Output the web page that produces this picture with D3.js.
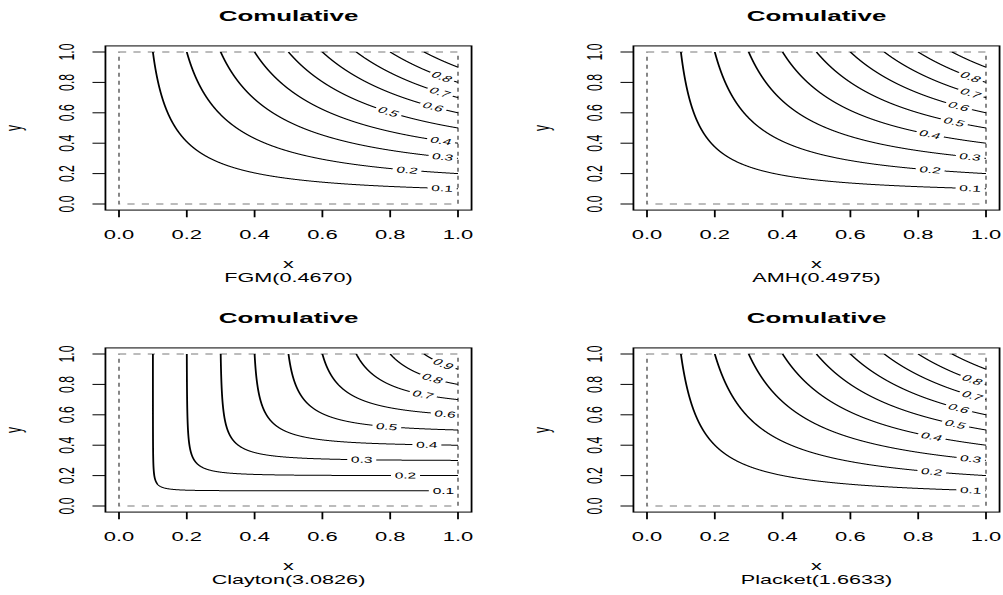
<!DOCTYPE html>
<html><head><meta charset="utf-8">
<script src="https://cdn.jsdelivr.net/npm/d3@7"></script>
<style>
html,body{margin:0;padding:0;background:#fff;}
svg{display:block;}
text{font-family:"Liberation Sans",Arial,Helvetica,sans-serif;fill:#000;}
</style>
</head><body>
<svg id="chart" width="1003" height="595"></svg>
<script>
// ---- data ----
const panelNames = ["FGM", "AMH", "Clayton", "Placket"];
const panelParams = [0.4670, 0.4975, 3.0826, 1.6633];
const panelParamLabels = ["0.4670", "0.4975", "3.0826", "1.6633"];
const levels = [0.1, 0.2, 0.3, 0.4, 0.5, 0.6, 0.7, 0.8, 0.9];
const levelLabels = ["0.1", "0.2", "0.3", "0.4", "0.5", "0.6", "0.7", "0.8", "0.9"];
// x position (data units) of each contour label, null = no label
const labelPosFGM = [0.953, 0.85, 0.955, 0.95, 0.795, 0.927, 0.947, 0.953, null];
const labelPosAMH = [0.953, 0.835, 0.953, 0.835, 0.906, 0.92, 0.955, 0.955, null];
const labelPosClayton = [0.957, 0.845, 0.716, 0.908, 0.79, 0.962, 0.897, 0.925, 0.957];
const labelPosPlacket = [0.955, 0.84, 0.955, 0.84, 0.91, 0.92, 0.96, 0.96, null];
const axisTicks = [0, 0.2, 0.4, 0.6, 0.8, 1.0];
const tickLabels = ["0.0", "0.2", "0.4", "0.6", "0.8", "1.0"];
const mainTitle = "Comulative";
const xTitle = "x";
const yTitle = "y";

// copula CDFs (the surfaces being contoured)
const copulas = [
  (u, v, t) => u * v * (1 + t * (1 - u) * (1 - v)),
  (u, v, t) => u * v / (1 - t * (1 - u) * (1 - v)),
  (u, v, t) => {
    if (u <= 0 || v <= 0) return 0;
    const s = Math.pow(u, -t) + Math.pow(v, -t) - 1;
    return Math.pow(Math.max(s, 1e-300), -1 / t);
  },
  (u, v, t) => {
    const s = 1 + (t - 1) * (u + v);
    return (s - Math.sqrt(Math.max(s * s - 4 * t * (t - 1) * u * v, 0))) / (2 * (t - 1));
  }
];
const labelPositions = [labelPosFGM, labelPosAMH, labelPosClayton, labelPosPlacket];

// ---- layout ----
const S = 1.8;           // horizontal stretch of the picture
const colDX = 528, rowDY = 302;
const svg = d3.select("#chart");
const root = svg.append("g").attr("transform", `scale(${S},1)`);

function contourCurve(C, t, c, N) {
  const pts = [];
  for (let i = 0; i <= N; i++) {
    const phi = i / N * Math.PI / 2;
    const cx = Math.cos(phi), sy = Math.sin(phi);
    const rmax = Math.min(cx > 1e-12 ? 1 / cx : Infinity, sy > 1e-12 ? 1 / sy : Infinity);
    let lo = 0, hi = rmax;
    for (let k = 0; k < 60; k++) {
      const m = (lo + hi) / 2;
      const val = C(Math.max(0, 1 - m * cx), Math.max(0, 1 - m * sy), t);
      if (val > c) lo = m; else hi = m;
    }
    const r = (lo + hi) / 2;
    pts.push([Math.max(0, 1 - r * cx), Math.max(0, 1 - r * sy)]);
  }
  return pts;
}

const line = d3.line();

panelNames.forEach((name, p) => {
  const col = p % 2, row = Math.floor(p / 2);
  const ox = col * colDX, oy = row * rowDY;
  const xs = d3.scaleLinear().domain([0, 1]).range([(119 + ox) / S, (458 + ox) / S]);
  const ys = d3.scaleLinear().domain([0, 1]).range([204 + oy, 52 + oy]);
  const g = root.append("g");

  const bx0 = xs(-0.04), bx1 = xs(1.04), by0 = ys(1.04), by1 = ys(-0.04);

  // dashed unit square
  g.append("rect")
    .attr("x", xs(0)).attr("y", ys(1))
    .attr("width", xs(1) - xs(0)).attr("height", ys(0) - ys(1))
    .attr("fill", "none").attr("stroke", "#7a7a7a")
    .attr("stroke-width", 1).attr("stroke-dasharray", "4,4");

  // contours
  const C = copulas[p], t = panelParams[p];
  levels.forEach((c, li) => {
    const pts = contourCurve(C, t, c, 1400);
    const P = pts.map(([u, v]) => [xs(u), ys(v)]);
    const lx = labelPositions[p][li];
    if (lx == null) {
      g.append("path").attr("d", line(P)).attr("fill", "none").attr("stroke", "#000").attr("stroke-width", 1);
      return;
    }
    // find label center on the curve
    let k = 0;
    for (let i = 0; i < pts.length - 1; i++) {
      if (pts[i][0] <= lx && pts[i + 1][0] >= lx) { k = i; }
    }
    const a = pts[k], b = pts[k + 1];
    const f = b[0] > a[0] ? (lx - a[0]) / (b[0] - a[0]) : 0;
    const cen = [xs(lx), ys(a[1] + f * (b[1] - a[1]))];
    const txt = g.append("text")
      .attr("font-size", "8.6px")
      .attr("text-anchor", "middle")
      .attr("dy", "0.35em")
      .text(levelLabels[li]);
    const w = txt.node().getComputedTextLength();
    const hw = w / 2;
    const dist = q => Math.hypot(q[0] - cen[0], q[1] - cen[1]);
    let ia = k, ib = k + 1;
    while (ia > 0 && dist(P[ia]) < hw) ia--;
    while (ib < P.length - 1 && dist(P[ib]) < hw) ib++;
    let ang = Math.atan2(P[ib][1] - P[ia][1], P[ib][0] - P[ia][0]) * 180 / Math.PI;
    if (ang > 90) ang -= 180;
    if (ang < -90) ang += 180;
    txt.attr("transform", `translate(${cen[0]},${cen[1]}) rotate(${ang})`);
    const L = hw + 2;
    const seg1 = [], seg2 = [];
    for (let i = 0; i <= k; i++) if (dist(P[i]) >= L) seg1.push(P[i]); else break;
    for (let i = P.length - 1; i > k; i--) if (dist(P[i]) >= L) seg2.unshift(P[i]); else break;
    [seg1, seg2].forEach(s => {
      if (s.length > 1) g.append("path").attr("d", line(s)).attr("fill", "none").attr("stroke", "#000").attr("stroke-width", 1);
    });
  });

  // box
  g.append("rect").attr("x", bx0).attr("y", by0).attr("width", bx1 - bx0).attr("height", by1 - by0)
    .attr("fill", "none").attr("stroke", "#000").attr("stroke-width", 1);

  // x axis ticks
  axisTicks.forEach((v, i) => {
    g.append("line").attr("x1", xs(v)).attr("x2", xs(v)).attr("y1", by1).attr("y2", by1 + 7.2)
      .attr("stroke", "#000").attr("stroke-width", 1);
    g.append("text").attr("x", xs(v)).attr("y", 239 + oy).attr("text-anchor", "middle")
      .attr("font-size", "12.2px").text(tickLabels[i]);
  });
  // y axis ticks
  axisTicks.forEach((v, i) => {
    g.append("line").attr("x1", bx0).attr("x2", bx0 - 7.2).attr("y1", ys(v)).attr("y2", ys(v))
      .attr("stroke", "#000").attr("stroke-width", 1);
    g.append("text").attr("transform", `translate(${(66.5 + ox) / S},${ys(v)}) rotate(-90)`)
      .attr("text-anchor", "middle").attr("dy", "0.35em")
      .attr("font-size", "12.2px").text(tickLabels[i]);
  });

  const cx = (bx0 + bx1) / 2;
  g.append("text").attr("x", cx).attr("y", 21.5 + oy).attr("text-anchor", "middle")
    .attr("font-size", "14.4px").attr("font-weight", "bold").text(mainTitle);
  g.append("text").attr("x", cx).attr("y", 268 + oy).attr("text-anchor", "middle")
    .attr("font-size", "12px").text(xTitle);
  g.append("text").attr("x", cx).attr("y", 282.5 + oy).attr("text-anchor", "middle")
    .attr("font-size", "12px").text(`${name}(${panelParamLabels[p]})`);
  g.append("text").attr("transform", `translate(${(21 + ox) / S},${(by0 + by1) / 2}) rotate(-90)`)
    .attr("text-anchor", "middle").attr("font-size", "12px").text(yTitle);
});
</script>
</body></html>
